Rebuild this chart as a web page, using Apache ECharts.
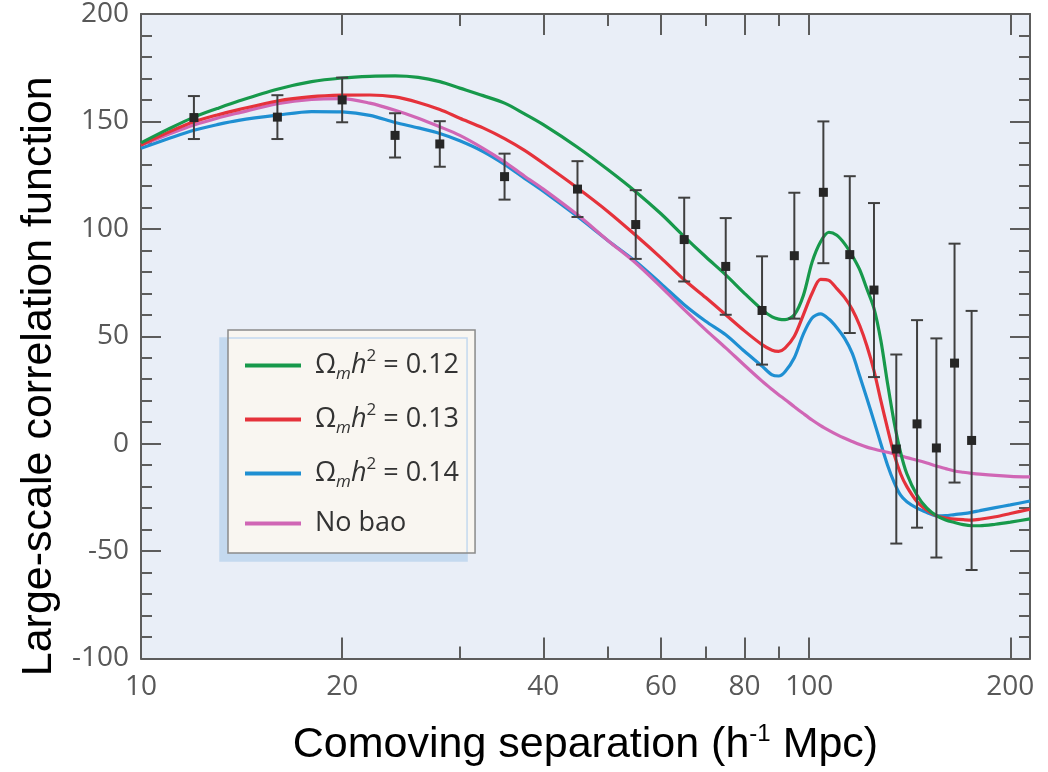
<!DOCTYPE html>
<html>
<head>
<meta charset="utf-8">
<script src="https://cdn.jsdelivr.net/npm/echarts@6/dist/echarts.min.js"></script>
<style>
    html, body { margin: 0; padding: 0; background: #fff; }
    #main { width: 1048px; height: 772px; }
</style>
</head>
<body>
<div id="main"></div>
<script>
var rGrid = [10, 11, 12, 13, 14, 16, 18, 20, 22, 24, 26, 28, 30, 32.5, 35, 37.5, 40, 45, 50, 55,
    60, 65, 70, 75, 80, 85, 88, 90, 92, 95, 98, 101, 104, 107, 110, 113, 116, 119, 122, 125,
    128, 131, 134, 137, 140, 145, 150, 155, 160, 165, 170, 175, 180, 190, 200, 214];

var curve012 = [140, 146.5, 152, 156, 159.5, 165, 168.5, 170.2, 171, 171.2, 170.5, 168.5, 165.5, 162, 158.5,
    153.5, 148.5, 138, 127.5, 117.3, 107, 96.4, 87, 78.6, 70, 62.4, 59, 58, 57.7, 60,
    69, 84.5, 94, 98.4, 97, 93, 87.5, 81, 72, 63, 48, 28, 10, -4, -14,
    -24, -30, -33.5, -35.5, -36.7, -37.7, -38.2, -38.2, -37.5, -36.5, -35];

var curve013 = [139, 145, 149.8, 153, 155.5, 159.5, 161.5, 162.2, 162.3, 161.4, 158.8, 155.5, 151.5, 147, 142,
    136.5, 130.5, 119, 108, 97, 86.5, 76.3, 68, 60, 52.5, 46.1, 43.5, 43, 44.5, 50,
    60, 70, 76.5, 76, 72.2, 68, 62.5, 55, 45.5, 34, 20, 7, -5, -14, -20,
    -27, -31, -33.6, -34.6, -35.1, -35.4, -35.6, -35.2, -34, -32.5, -30.5];

var curve014 = [137.5, 142, 145.9, 148.5, 150.5, 152.9, 154.6, 154.4, 152.8, 149.5, 147, 144.4, 141, 136, 130,
    123.5, 117.5, 105.7, 94.5, 84.8, 74.5, 64.7, 57, 50.7, 43, 36.1, 32, 31.5, 33.5, 40,
    51, 58.5, 60.4, 58, 54, 49, 42, 31.5, 21, 10.5, 0, -10, -18, -24, -27,
    -30, -32, -33.6, -33.5, -33, -32.6, -32, -31.2, -29.8, -28.5, -26.7];

var curveNoBao = [139, 144, 148.3, 151.5, 154, 158.3, 160.3, 160.6, 158.5, 155.2, 151.5, 147.5, 143.5, 137.5, 131.2,
    124.5, 118.5, 106.5, 94.5, 84.1, 73, 62.4, 53, 44.6, 36.5, 29.1, 25.2, 22.8, 20.6, 17.2,
    14, 11, 8.4, 6.2, 4.2, 2.5, 1, -0.4, -1.6, -2.5, -3.3, -4, -4.8, -5.6, -6.5,
    -7.7, -9, -10.4, -11.6, -12.7, -13.3, -13.8, -14.2, -14.8, -15.2, -15.5];

// measured points with 1-sigma errors
var ptR = [12, 16, 20, 24, 28, 35, 45, 55, 65, 75, 85, 95, 105, 115, 125, 135, 145, 155, 165, 175];
var ptVal = [151.8, 152, 160, 143.5, 139.5, 124.3, 118.5, 102, 95, 82.5, 62, 87.5, 117, 88, 71.5, -2.5, 9.2, -2, 37.5, 1.5];
var ptErr = [10, 10.2, 10.4, 10.3, 10.6, 10.7, 13, 16, 19.5, 22.5, 25.2, 29.3, 33, 36.5, 40.5, 44, 48.3, 51, 55.6, 60.3];

var xLabelTicks = [10, 20, 40, 60, 80, 100, 200];
var xMajorTicks = [20, 40, 60, 80, 100, 200];
var xMinorTicks = [30, 50, 70, 90];

var seriesNames = ['0.12', '0.13', '0.14', 'No bao'];
var seriesColors = ['#17994b', '#e5323b', '#1f8fd2', '#d066b5'];

var axisColor = '#5c5c5c';
var labelFont = 'Open Sans';

function pairs(ys) {
    return rGrid.map(function (r, i) { return [r, ys[i]]; });
}

var errData = ptR.map(function (r, i) {
    return [r, ptVal[i], ptVal[i] - ptErr[i], ptVal[i] + ptErr[i]];
});

function renderErr(params, api) {
    var p = api.coord([api.value(0), api.value(1)]);
    var lo = api.coord([api.value(0), api.value(2)]);
    var hi = api.coord([api.value(0), api.value(3)]);
    var cap = 6;
    var st = { stroke: '#3f3f3f', lineWidth: 2 };
    return {
        type: 'group',
        children: [
            { type: 'line', shape: { x1: p[0], y1: hi[1], x2: p[0], y2: lo[1] }, style: st },
            { type: 'line', shape: { x1: p[0] - cap, y1: hi[1], x2: p[0] + cap, y2: hi[1] }, style: st },
            { type: 'line', shape: { x1: p[0] - cap, y1: lo[1], x2: p[0] + cap, y2: lo[1] }, style: st },
            { type: 'rect', shape: { x: p[0] - 4.5, y: p[1] - 4.5, width: 9, height: 9 }, style: { fill: '#262626' } }
        ]
    };
}

function logAxis(pos, ticks, len, extra) {
    var ax = {
        type: 'log', logBase: 10, min: 10, max: 214, position: pos,
        axisLine: { show: false, onZero: false },
        axisTick: { show: true, inside: true, length: len, customValues: ticks,
            lineStyle: { color: axisColor, width: 2 } },
        axisLabel: { show: false },
        splitLine: { show: false },
        minorTick: { show: false }
    };
    return Object.assign(ax, extra || {});
}

function valAxis(pos, extra) {
    var ax = {
        type: 'value', min: -100, max: 200, interval: 50, position: pos,
        axisLine: { show: true, onZero: false, lineStyle: { color: axisColor, width: 2 } },
        axisTick: { show: true, inside: true, length: 20, lineStyle: { color: axisColor, width: 2 } },
        minorTick: { show: true, splitNumber: 5, length: 11, lineStyle: { color: axisColor, width: 2 } },
        axisLabel: { show: false },
        splitLine: { show: false }
    };
    return Object.assign(ax, extra || {});
}

var chart = echarts.init(document.getElementById('main'));

var option = {
    animation: false,
    backgroundColor: '#fff',
    grid: {
        left: 141, right: 18, top: 14, bottom: 111,
        show: true, backgroundColor: '#e9eef7', borderWidth: 0
    },
    legend: {
        orient: 'vertical',
        left: 228, top: 330,
        data: seriesNames,
        selectedMode: false,
        icon: 'rect',
        itemWidth: 56, itemHeight: 4, itemGap: 19,
        padding: [18, 16, 16, 17],
        backgroundColor: '#f9f6f1',
        borderColor: '#8a8a8a', borderWidth: 1.5,
        shadowColor: '#c4d9ef', shadowBlur: 0, shadowOffsetX: -8, shadowOffsetY: 8,
        textStyle: {
            color: '#333', fontFamily: labelFont, fontSize: 27, padding: [0, 0, 0, 9],
            rich: {
                o: { fontFamily: labelFont, fontSize: 27, lineHeight: 35, color: '#333' },
                m: { fontFamily: labelFont, fontSize: 17, fontStyle: 'italic', lineHeight: 17, verticalAlign: 'bottom', color: '#333' },
                h: { fontFamily: labelFont, fontSize: 27, fontStyle: 'italic', lineHeight: 35, color: '#333' },
                s: { fontFamily: labelFont, fontSize: 17, lineHeight: 21, verticalAlign: 'top', color: '#333' },
                t: { fontFamily: labelFont, fontSize: 27, lineHeight: 35, color: '#333' }
            }
        },
        formatter: function (name) {
            if (name === 'No bao') return '{t|No bao}';
            return '{o|\u03a9}{m|m}{h|h}{s|2}{t| = ' + name + '}';
        }
    },
    xAxis: [
        logAxis('bottom', xMajorTicks, 21, {
            axisLine: { show: true, onZero: false, lineStyle: { color: axisColor, width: 2 } },
            axisLabel: { show: true, customValues: xLabelTicks, margin: 15, color: '#585858',
                fontSize: 28, fontFamily: labelFont },
            name: '{a|Comoving separation (h}{s|-1}{a| Mpc)}',
            nameLocation: 'middle', nameGap: 64,
            nameTextStyle: {
                rich: {
                    a: { fontFamily: 'Liberation Sans', fontSize: 43, color: '#000', lineHeight: 46 },
                    s: { fontFamily: 'Liberation Sans', fontSize: 24, color: '#000', lineHeight: 28, verticalAlign: 'top' }
                }
            }
        }),
        logAxis('bottom', xMinorTicks, 12),
        logAxis('top', xMajorTicks, 21, {
            axisLine: { show: true, onZero: false, lineStyle: { color: axisColor, width: 2 } }
        }),
        logAxis('top', xMinorTicks, 12)
    ],
    yAxis: [
        valAxis('left', {
            axisLabel: { show: true, margin: 12, color: '#585858', fontSize: 28, fontFamily: labelFont },
            name: 'Large-scale correlation function',
            nameLocation: 'middle', nameRotate: 90, nameGap: 80,
            nameTextStyle: { fontFamily: 'Liberation Sans', fontSize: 43, color: '#000', padding: [0, 80, 0, 0] }
        }),
        valAxis('right')
    ],
    series: [
        { name: '0.14', type: 'line', data: pairs(curve014), showSymbol: false, smooth: 0.3,
          color: seriesColors[2], lineStyle: { width: 3.2 } },
        { name: 'No bao', type: 'line', data: pairs(curveNoBao), showSymbol: false, smooth: 0.3,
          color: seriesColors[3], lineStyle: { width: 3.2 } },
        { name: '0.13', type: 'line', data: pairs(curve013), showSymbol: false, smooth: 0.3,
          color: seriesColors[1], lineStyle: { width: 3.2 } },
        { name: '0.12', type: 'line', data: pairs(curve012), showSymbol: false, smooth: 0.3,
          color: seriesColors[0], lineStyle: { width: 3.2 } },
        { name: 'data', type: 'custom', renderItem: renderErr, data: errData,
          encode: { x: 0, y: [1, 2, 3] }, z: 5 }
    ]
};

chart.setOption(option);
</script>
</body>
</html>
